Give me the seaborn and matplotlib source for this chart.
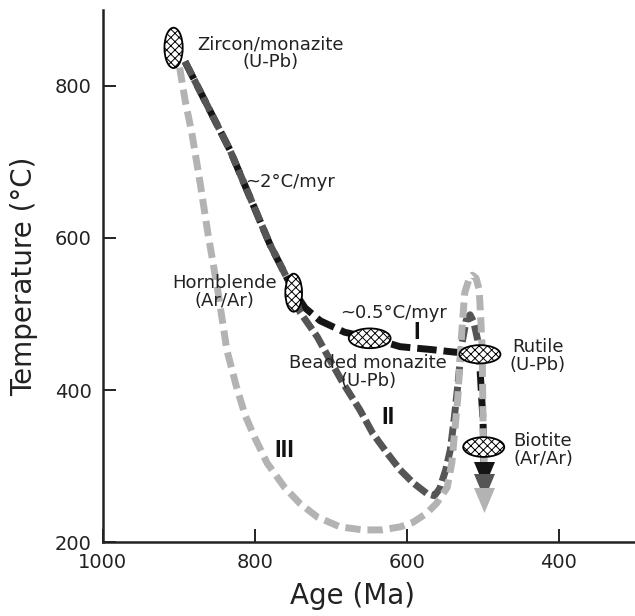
import matplotlib
matplotlib.use("Agg")
import matplotlib.pyplot as plt
from matplotlib.patches import Ellipse
from matplotlib.path import Path
import seaborn as sns

# cooling path I (black): zircon -> hornblende -> beaded monazite -> rutile -> biotite
path1_age = [892, 833, 780, 750, 734, 714, 682, 646, 609, 566, 539, 505, 503, 500, 499, 499]
path1_temp = [832, 716, 591, 532, 508, 491, 476, 468, 457, 453, 450, 447, 413, 361, 324, 305]

# cooling path II (dark grey)
path2_age = [892, 833, 780, 750, 741, 718, 701, 684, 662, 645, 626, 609, 592, 574, 564,
             557, 549, 543, 538, 533, 528, 522, 517, 512, 507, 504]
path2_temp = [832, 716, 591, 532, 503, 470, 439, 409, 374, 343, 317, 295, 278, 264, 261,
              270, 295, 321, 361, 407, 459, 492, 499, 489, 466, 447]

# cooling path III (light grey)
path3_age = [899, 892, 883, 872, 862, 849, 837, 825, 813, 800, 784, 761, 741, 718, 688,
             658, 633, 609, 592, 574, 561, 547, 541, 537, 533, 528, 524, 518, 514, 509,
             505, 503, 501, 500, 499, 499]
path3_temp = [824, 782, 738, 672, 607, 532, 453, 407, 367, 337, 304, 272, 251, 233, 220,
              216, 216, 220, 226, 238, 251, 272, 304, 347, 391, 475, 528, 547, 551, 547,
              532, 496, 453, 364, 321, 282]

# arrow heads at the end of each path (I, II, III)
arrow_age = [499, 499, 499]
arrow_temp = [289, 274, 255]

# thermochronometers
chron_names = ["Zircon/monazite\n(U-Pb)", "Hornblende\n(Ar/Ar)", "Beaded monazite\n(U-Pb)",
               "Rutile\n(U-Pb)", "Biotite\n(Ar/Ar)"]
chron_age = [907, 749, 649, 504, 499]
chron_temp = [850, 528, 468, 447, 325]

x_ticks = [1000, 800, 600, 400]
y_ticks = [200, 400, 600, 800]

sns.set_style("ticks")
plt.rcParams['font.family'] = ['DejaVu Sans']
plt.rcParams['hatch.linewidth'] = 0.7
plt.rcParams['hatch.color'] = '#333333'

fig = plt.figure(figsize=(6.35, 6.16), dpi=100)
ax = fig.add_axes([0.162, 0.120, 0.838, 0.864])

black, dark, light = '#151515', '#555555', '#b3b3b3'

sns.lineplot(x=path1_age, y=path1_temp, sort=False, estimator=None, ax=ax, color=black,
             lw=5, linestyle=(0, (2.8, 1.0)), dash_capstyle='butt', zorder=2)
sns.lineplot(x=path2_age, y=path2_temp, sort=False, estimator=None, ax=ax, color=dark,
             lw=5, linestyle=(0, (2.2, 0.7)), dash_capstyle='butt', zorder=3)
sns.lineplot(x=path3_age, y=path3_temp, sort=False, estimator=None, ax=ax, color=light,
             lw=5, linestyle=(0, (2.2, 1.0)), dash_capstyle='butt', zorder=4)

# arrow heads
head = Path([(-0.42, 0.5), (0.42, 0.5), (0, -0.5), (-0.42, 0.5)])
for a, t, c, z in zip(arrow_age, arrow_temp, [black, dark, light], [6, 7, 8]):
    ax.plot([a], [t], marker=head, ms=18, color=c, mec='none', ls='none', zorder=z)

# hatched ellipses
widths = [24, 22, 55, 54, 54]
heights = [53, 50, 26, 24, 26]
for a, t, w, h in zip(chron_age, chron_temp, widths, heights):
    ax.add_patch(Ellipse((a, t), w, h, facecolor='white', edgecolor='black',
                         hatch='xxxx', lw=1.3, zorder=5))

# mineral labels
label_pos = [(780, 843), (840, 529), (651, 424), (428, 445), (421, 321)]
for name, (a, t) in zip(chron_names, label_pos):
    ax.text(a, t, name, ha='center', va='center', fontsize=13, linespacing=1.0,
            color='#222222', zorder=9)

ax.text(754, 674, "~2°C/myr", ha='center', va='center', fontsize=13, color='#222222')
ax.text(618, 501, "~0.5°C/myr", ha='center', va='center', fontsize=13, color='#222222')

for s, a, t in [("I", 587, 475), ("II", 625, 364), ("III", 761, 321)]:
    ax.text(a, t, s, ha='center', va='center', fontsize=17, fontweight='bold',
            family=['Liberation Sans', 'DejaVu Sans'], color='#111111')

ax.set_xlim(1000, 300)
ax.set_ylim(200, 900)
ax.set_xticks(x_ticks)
ax.set_yticks(y_ticks)
ax.tick_params(direction='in', length=9.5, width=1.4, labelsize=14, pad=8,
               colors='#222222')
for sp in ['left', 'bottom']:
    ax.spines[sp].set_linewidth(1.8)
    ax.spines[sp].set_color('#222222')
sns.despine(ax=ax)

ax.set_xlabel("Age (Ma)", fontsize=20, color='#222222')
ax.set_ylabel("Temperature (°C)", fontsize=20, color='#222222')
ax.xaxis.set_label_coords(0.47, -0.075)
ax.yaxis.set_label_coords(-0.122, 0.5)

fig.savefig("out.png", dpi=100)
